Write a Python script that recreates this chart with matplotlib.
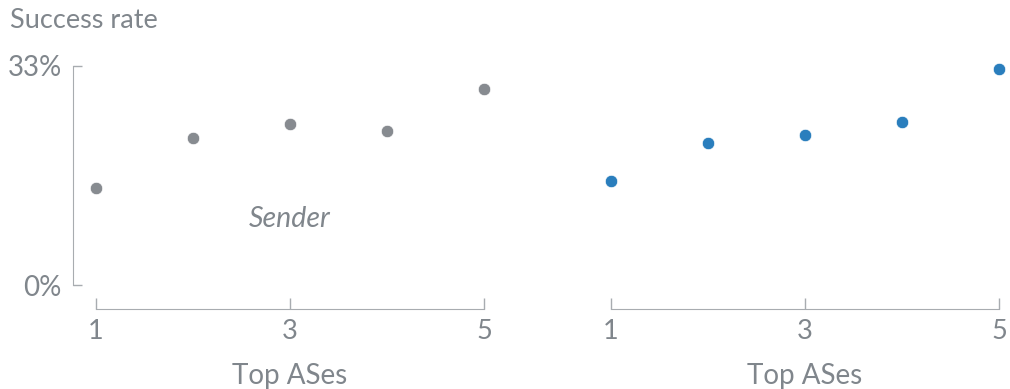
import matplotlib
matplotlib.use("Agg")
import matplotlib.pyplot as plt

# data
ranks = [1, 2, 3, 4, 5]
sender_rate = [14.6, 22.1, 24.3, 23.1, 29.5]
receiver_rate = [15.6, 21.3, 22.6, 24.5, 32.5]
y_ticks = [0, 33]
y_labels = ["0%", "33%"]
x_ticks = [1, 3, 5]

text_col = "#80868c"
spine_col = "#a8acb0"
gray_dot = "#878b90"
blue_dot = "#2a7ebd"

plt.rcParams['font.family'] = ['Lato', 'DejaVu Sans']

fig = plt.figure(figsize=(10.1, 3.89), dpi=100)
W, H = 1010, 389
bottom = (H - 285) / H
height = (285 - 65.7) / H
ax1 = fig.add_axes([96 / W, bottom, 388 / W, height])
ax2 = fig.add_axes([611 / W, bottom, 388 / W, height])

for ax, vals, col in [(ax1, sender_rate, gray_dot), (ax2, receiver_rate, blue_dot)]:
    ax.scatter(ranks, vals, s=80, color=col, edgecolor='white', linewidth=0.5,
               clip_on=False, zorder=3)
    ax.set_xlim(1, 5)
    ax.set_ylim(0, 33)
    for s in ['top', 'right']:
        ax.spines[s].set_visible(False)
    ax.spines['bottom'].set_position(('outward', 17.5))
    ax.spines['bottom'].set_bounds(1, 5)
    ax.spines['bottom'].set_color(spine_col)
    ax.spines['left'].set_color(spine_col)
    ax.set_xticks(x_ticks)
    ax.tick_params(axis='x', direction='in', length=8, width=1, color=spine_col,
                   labelcolor=text_col, labelsize=19.5, pad=7)
    ax.set_xlabel("Top ASes", color=text_col, fontsize=20, labelpad=14)

ax1.spines['left'].set_position(('outward', 16.6))
ax1.spines['left'].set_bounds(0, 33)
ax1.set_yticks(y_ticks)
ax1.set_yticklabels(y_labels)
ax1.tick_params(axis='y', direction='in', length=6.5, width=1, color=spine_col,
                labelcolor=text_col, labelsize=20, pad=8)

ax2.spines['left'].set_visible(False)
ax2.set_yticks([])

ax1.text(3, 10, "Sender", style='italic', color=text_col, fontsize=20.5,
         ha='center', va='center')

fig.text(10 / W, 1 - 28 / H, "Success rate", color=text_col, fontsize=19.5,
         ha='left', va='baseline')

fig.savefig("out.png", dpi=100)
